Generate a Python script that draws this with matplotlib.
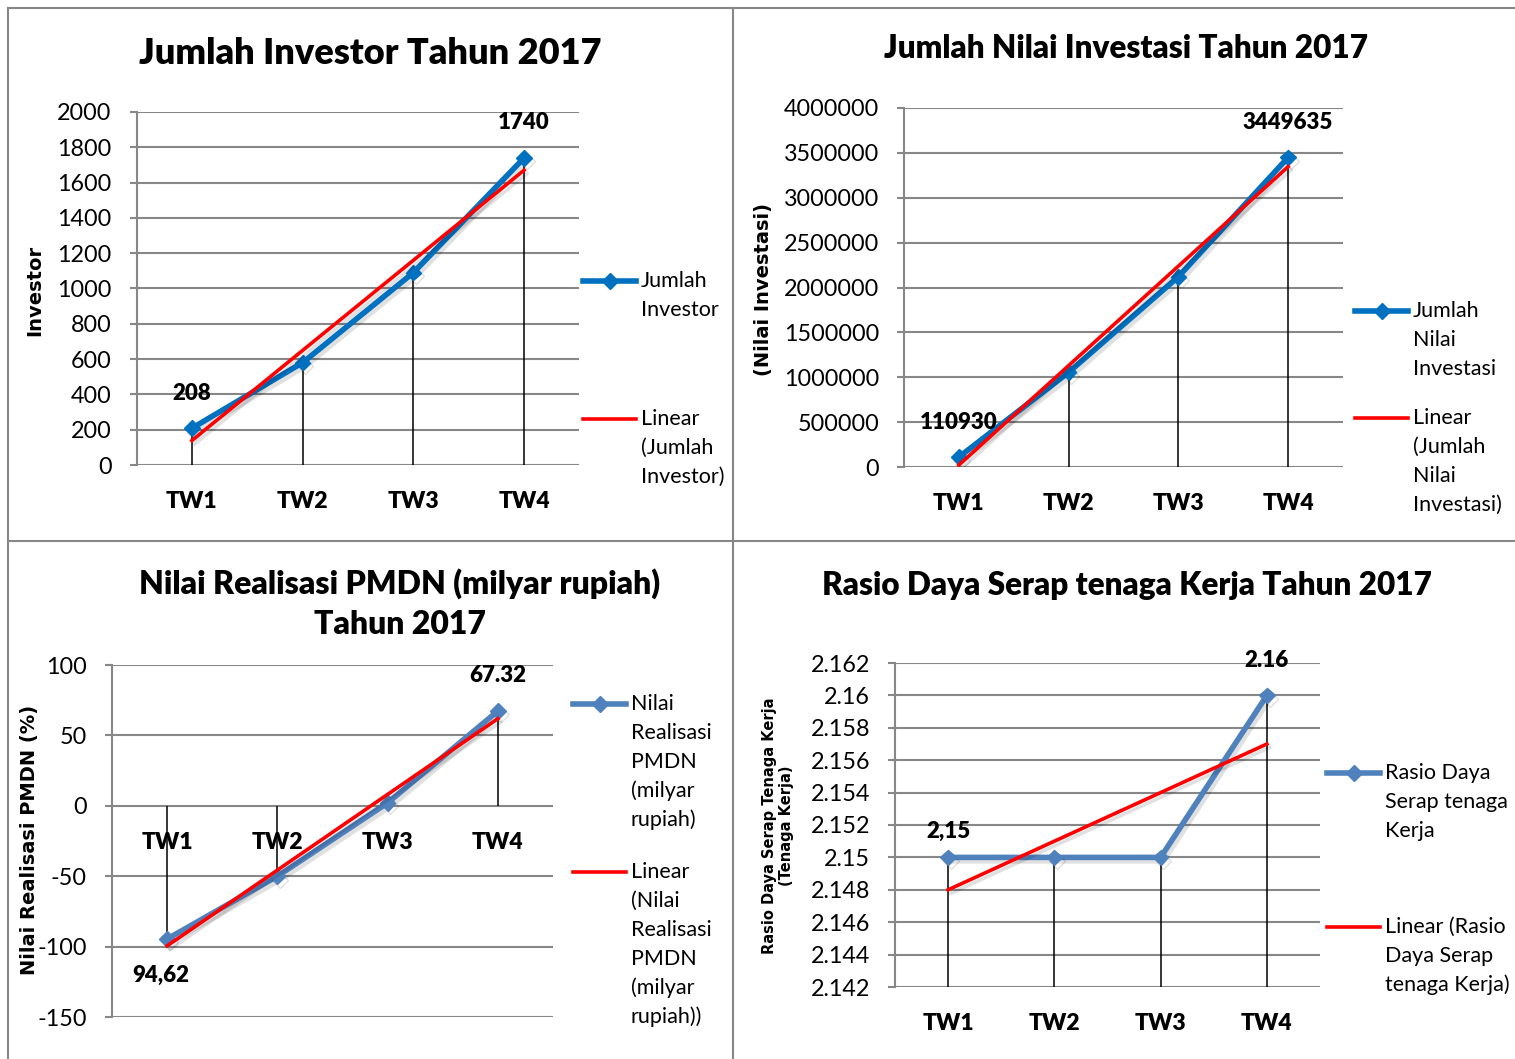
import matplotlib
matplotlib.use('Agg')
import matplotlib.pyplot as plt
import matplotlib.patheffects as pe
from matplotlib.lines import Line2D
import numpy as np

plt.rcParams['font.family'] = ['Lato', 'DejaVu Sans']

W, H = 1515, 1059

kategori = ['TW1', 'TW2', 'TW3', 'TW4']

investor = [208, 580, 1090, 1740]
investasi = [110930, 1055000, 2120000, 3449635]
pmdn = [-94.62, -50, 2.1, 67.32]
rasio = [2.15, 2.15, 2.15, 2.16]

label_investor = ['208', '', '', '1740']
label_investasi = ['110930', '', '', '3449635']
label_pmdn = ['94,62', '', '', '67.32']
label_rasio = ['2,15', '', '', '2.16']

ticks_investor = [0, 200, 400, 600, 800, 1000, 1200, 1400, 1600, 1800, 2000]
ticks_investasi = [0, 500000, 1000000, 1500000, 2000000, 2500000, 3000000, 3500000, 4000000]
ticks_pmdn = [-150, -100, -50, 0, 50, 100]
ticks_rasio = [2.142, 2.144, 2.146, 2.148, 2.15, 2.152, 2.154, 2.156, 2.158, 2.16, 2.162]
ticklabel_rasio = ['2.142', '2.144', '2.146', '2.148', '2.15', '2.152', '2.154',
                   '2.156', '2.158', '2.16', '2.162']

BIRU1 = '#0070C0'
BIRU2 = '#4F81BD'
MERAH = '#FF0000'
ABU = '#878787'
TEBAL = 'heavy'


def fx(x):
    return x / W


def fy(y):
    return 1 - y / H


fig = plt.figure(figsize=(W / 100, H / 100), dpi=100)

# bingkai panel
for xs, ys in [([7.5, 7.5], [7.5, 1059]), ([7.5, 1515], [7.5, 7.5]),
               ([733, 733], [7.5, 1059]), ([7.5, 1515], [541, 541])]:
    fig.add_artist(Line2D([fx(x) for x in xs], [fy(y) for y in ys],
                          transform=fig.transFigure, color=ABU, lw=1.5))


def panel(kiri, atas, kanan, bawah, nilai, warna, ylim, yticks, ylabels,
          teks, geser, dasar):
    ax = fig.add_axes([fx(kiri), fy(bawah), fx(kanan) - fx(kiri), fy(atas) - fy(bawah)])
    x = np.arange(len(nilai))
    ax.set_xlim(-0.5, len(nilai) - 0.5)
    ax.set_ylim(*ylim)
    ax.set_yticks(yticks, ylabels)
    ax.set_xticks([])
    ax.tick_params(axis='y', length=5, width=1.5, color=ABU, pad=13, labelsize=16.8)
    ax.grid(axis='y', color=ABU, lw=1.5)
    ax.set_axisbelow(True)
    for s in ['top', 'right', 'bottom']:
        ax.spines[s].set_visible(False)
    ax.spines['left'].set_color(ABU)
    ax.spines['left'].set_linewidth(1.5)

    ax.vlines(x, dasar, nilai, color='black', lw=1.1, zorder=2)
    bayang = [pe.SimpleLineShadow(offset=(2, -2.5), shadow_color='black', alpha=0.12), pe.Normal()]
    ax.plot(x, nilai, color=warna, lw=4, marker='D', ms=8, zorder=3, path_effects=bayang)
    a, b = np.polyfit(x, nilai, 1)
    ax.plot(x[[0, -1]], a * x[[0, -1]] + b, color=MERAH, lw=2.6, zorder=4, path_effects=bayang)

    for i, k in enumerate(kategori):
        ax.annotate(k, (i, dasar), xytext=(0, -37), textcoords='offset pixels',
                    ha='center', va='center', fontsize=16.5, fontweight=TEBAL)
    for i, t in enumerate(teks):
        if t:
            ax.annotate(t, (i, nilai[i]), xytext=geser[i], textcoords='offset pixels',
                        ha='center', va='center', fontsize=16, fontweight=TEBAL)
    return ax


def legende(x0, isi, warna):
    for j, (y, baris) in enumerate(isi):
        if j == 0:
            fig.add_artist(Line2D([fx(x0), fx(x0 + 53)], [fy(y), fy(y)],
                                  transform=fig.transFigure, color=warna, lw=4))
            fig.add_artist(Line2D([fx(x0 + 26.5)], [fy(y)], transform=fig.transFigure,
                                  color=warna, marker='D', ms=8))
        else:
            fig.add_artist(Line2D([fx(x0), fx(x0 + 53)], [fy(y), fy(y)],
                                  transform=fig.transFigure, color=MERAH, lw=2.6))
        for n, s in enumerate(baris):
            fig.text(fx(x0 + 58), fy(y + 29 * n), s, ha='left', va='center', fontsize=15.5)


# 1. Jumlah investor
panel(136.5, 112, 579.5, 465, investor, BIRU1, (0, 2000), ticks_investor,
      [str(t) for t in ticks_investor], label_investor,
      [(0, 35), None, None, (0, 35)], 0)
fig.text(fx(370), fy(53), 'Jumlah Investor Tahun 2017', ha='center', va='center',
         fontsize=26, fontweight=TEBAL)
fig.text(fx(35), fy(290), 'Investor', rotation=90, ha='center', va='center',
         fontsize=14, fontweight='bold', family='DejaVu Sans')
legende(583, [(281, ['Jumlah', 'Investor']),
              (419, ['Linear', '(Jumlah', 'Investor)'])], BIRU1)

# 2. Jumlah nilai investasi
panel(904, 108, 1343, 467, investasi, BIRU1, (0, 4000000), ticks_investasi,
      [str(t) for t in ticks_investasi], label_investasi,
      [(0, 35), None, None, (0, 35)], 0)
fig.text(fx(1126), fy(49), 'Jumlah Nilai Investasi Tahun 2017', ha='center', va='center',
         fontsize=22.7, fontweight=TEBAL)
fig.text(fx(763), fy(289), '(Nilai Investasi)', rotation=90, ha='center', va='center',
         fontsize=14, fontweight='bold', family='DejaVu Sans')
legende(1355, [(311, ['Jumlah', 'Nilai', 'Investasi']),
               (418, ['Linear', '(Jumlah', 'Nilai', 'Investasi)'])], BIRU1)

# 3. Nilai realisasi PMDN
panel(112, 665, 553, 1017, pmdn, BIRU2, (-150, 100), ticks_pmdn,
      [str(t) for t in ticks_pmdn], label_pmdn,
      [(-6, -36), None, None, (0, 36)], 0)
fig.text(fx(400), fy(584), 'Nilai Realisasi PMDN (milyar rupiah)', ha='center', va='center',
         fontsize=23, fontweight=TEBAL)
fig.text(fx(400), fy(625), 'Tahun 2017', ha='center', va='center',
         fontsize=23, fontweight=TEBAL)
fig.text(fx(30), fy(840), 'Nilai Realisasi PMDN (%)', rotation=90, ha='center', va='center',
         fontsize=14, fontweight='bold', family='DejaVu Sans')
legende(573, [(704, ['Nilai', 'Realisasi', 'PMDN', '(milyar', 'rupiah)']),
              (872, ['Linear', '(Nilai', 'Realisasi', 'PMDN', '(milyar', 'rupiah))'])], BIRU2)

# 4. Rasio daya serap tenaga kerja
panel(895, 663, 1320, 987, rasio, BIRU2, (2.142, 2.162), ticks_rasio,
      ticklabel_rasio, label_rasio,
      [(0, 26), None, None, (0, 35)], 2.142)
fig.text(fx(1127), fy(585), 'Rasio Daya Serap tenaga Kerja Tahun 2017', ha='center', va='center',
         fontsize=22.7, fontweight=TEBAL)
fig.text(fx(778), fy(826), 'Rasio Daya Serap Tenaga Kerja\n(Tenaga Kerja)', rotation=90,
         ha='center', va='center', fontsize=10.5, fontweight='bold', family='DejaVu Sans')
legende(1327, [(773, ['Rasio Daya', 'Serap tenaga', 'Kerja']),
               (927, ['Linear (Rasio', 'Daya Serap', 'tenaga Kerja)'])], BIRU2)

fig.savefig('out.png', dpi=100)
